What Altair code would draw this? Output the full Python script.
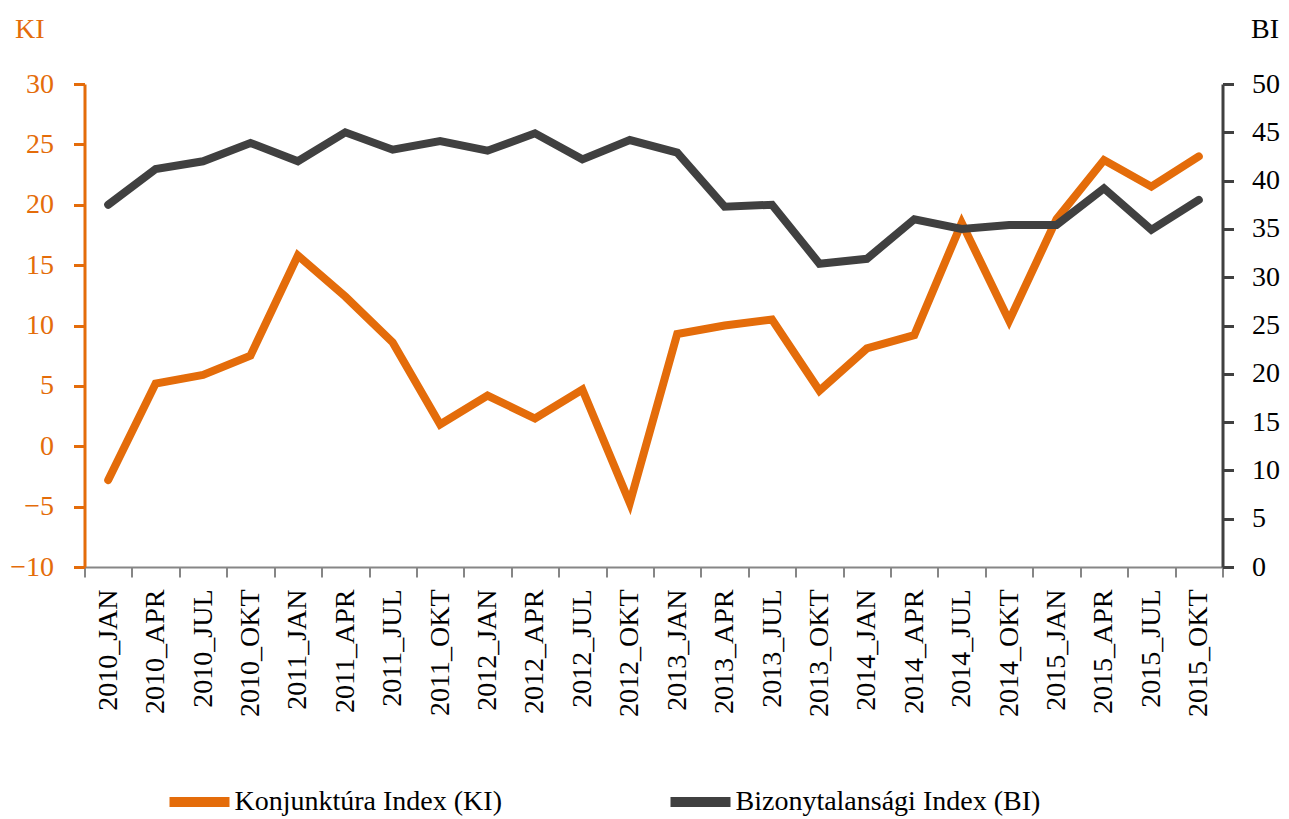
import altair as alt
import pandas as pd

quarters = [
    "2010_JAN", "2010_APR", "2010_JUL", "2010_OKT",
    "2011_JAN", "2011_APR", "2011_JUL", "2011_OKT",
    "2012_JAN", "2012_APR", "2012_JUL", "2012_OKT",
    "2013_JAN", "2013_APR", "2013_JUL", "2013_OKT",
    "2014_JAN", "2014_APR", "2014_JUL", "2014_OKT",
    "2015_JAN", "2015_APR", "2015_JUL", "2015_OKT",
]
ki_values = [
    -2.8, 5.2, 5.9, 7.5,
    15.8, 12.4, 8.6, 1.8,
    4.2, 2.3, 4.7, -4.7,
    9.3, 10.0, 10.5, 4.6,
    8.1, 9.2, 18.5, 10.4,
    18.8, 23.7, 21.5, 24.0,
]
bi_values = [
    37.5, 41.2, 42.0, 43.9,
    42.0, 45.0, 43.2, 44.1,
    43.1, 44.9, 42.2, 44.2,
    42.9, 37.3, 37.5, 31.4,
    31.9, 36.0, 35.0, 35.4,
    35.4, 39.2, 34.9, 38.0,
]
ki_name = "Konjunktúra Index (KI)"
bi_name = "Bizonytalansági Index (BI)"

ORANGE = "#E46C0A"
GRAY = "#404040"
AXIS_GRAY = "#868686"
FONT = "Liberation Serif"
FS = 28

rows = []
for q, k, b in zip(quarters, ki_values, bi_values):
    rows.append({"quarter": q, "series": ki_name, "value": k})
    rows.append({"quarter": q, "series": bi_name, "value": b})
df = pd.DataFrame(rows)

x_enc = alt.X(
    "quarter:N",
    sort=quarters,
    bandPosition=0.5,
    scale=alt.Scale(type="band", paddingInner=0, paddingOuter=0),
    axis=alt.Axis(
        title=None,
        tickBand="extent",
        labelAngle=-90,
        labelFontSize=FS,
        labelColor="black",
        labelPadding=12,
        tickSize=10,
        tickColor=AXIS_GRAY,
        tickWidth=2,
        domainColor=AXIS_GRAY,
        domainWidth=2,
        grid=False,
    ),
)

color_enc = alt.Color(
    "series:N",
    scale=alt.Scale(domain=[ki_name, bi_name], range=[ORANGE, GRAY]),
    legend=alt.Legend(
        title=None,
        orient="none",
        direction="horizontal",
        legendX=80,
        legendY=683,
        symbolType="stroke",
        symbolSize=3600,
        symbolStrokeWidth=10,
        labelFontSize=FS,
        labelColor="black",
        labelOffset=0,
        columnPadding=148,
        labelLimit=600,
    ),
)

base = alt.Chart(df)

ki_line = base.transform_filter(alt.datum.series == ki_name).mark_line(
    strokeWidth=8, strokeCap="round"
).encode(
    x=x_enc,
    y=alt.Y(
        "value:Q",
        scale=alt.Scale(domain=[-10, 30], nice=False, zero=False),
        axis=alt.Axis(
            orient="left",
            values=list(range(-10, 31, 5)),
            title="KI",
            titleAngle=0,
            titleX=-70,
            titleY=-47,
            titleAlign="left",
            titleBaseline="alphabetic",
            titleColor=ORANGE,
            titleFontSize=FS,
            titleFontWeight="normal",
            labelColor=ORANGE,
            labelFontSize=FS,
            labelPadding=20,
            tickSize=11,
            tickWidth=3,
            tickColor=ORANGE,
            domainColor=ORANGE,
            domainWidth=3,
            grid=False,
        ),
    ),
    color=color_enc,
)

bi_line = base.transform_filter(alt.datum.series == bi_name).mark_line(
    strokeWidth=8, strokeCap="round"
).encode(
    x=x_enc,
    y=alt.Y(
        "value:Q",
        scale=alt.Scale(domain=[0, 50], nice=False),
        axis=alt.Axis(
            orient="right",
            values=list(range(0, 51, 5)),
            title="BI",
            titleAngle=0,
            titleX=28,
            titleY=-47,
            titleAlign="left",
            titleBaseline="alphabetic",
            titleColor="black",
            titleFontSize=FS,
            titleFontWeight="normal",
            labelColor="black",
            labelFontSize=FS,
            labelPadding=18,
            tickSize=11,
            tickWidth=3,
            tickColor=GRAY,
            domainColor=GRAY,
            domainWidth=3,
            grid=False,
        ),
    ),
    color=color_enc,
)

chart = (
    alt.layer(ki_line, bi_line)
    .resolve_scale(y="independent")
    .properties(
        width=1138,
        height=483,
        autosize=alt.AutoSizeParams(type="none"),
        padding={"left": 76.5, "top": 76, "right": 58.5, "bottom": 252},
    )
    .configure_view(stroke=None)
    .configure_axis(labelFont=FONT, titleFont=FONT)
    .configure_legend(labelFont=FONT)
)

chart.save("out.html", embed_options={"renderer": "svg", "actions": False})
